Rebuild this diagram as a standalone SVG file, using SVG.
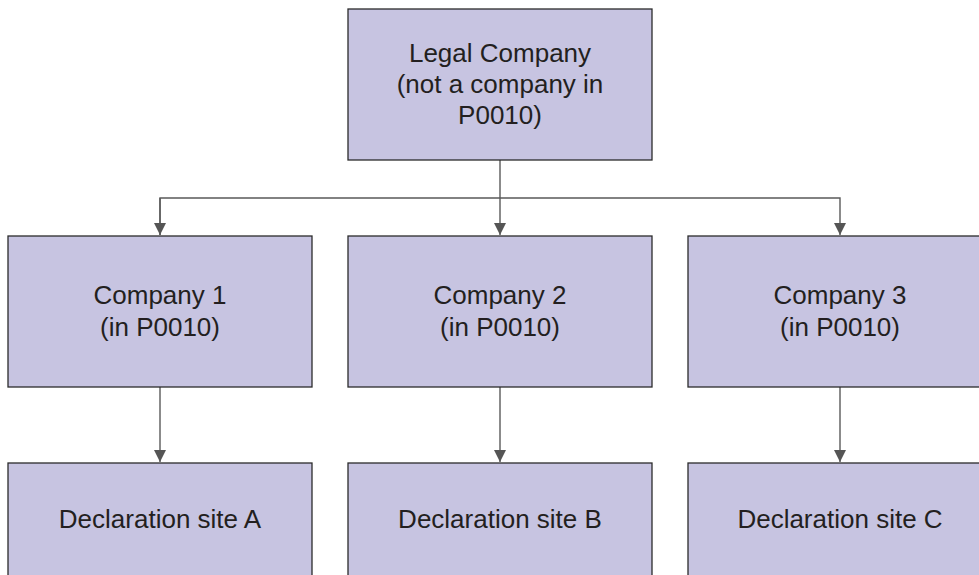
<svg xmlns="http://www.w3.org/2000/svg" width="979" height="575" viewBox="0 0 979 575">
<style>
.box{fill:#c7c4e1;stroke:#2b2b2b;stroke-width:1.3}
.lbl{font-family:"Liberation Sans",Arial,sans-serif;font-size:26px;fill:#231f20;text-anchor:middle}
.con{fill:none;stroke:#5a5a5a;stroke-width:1.4}
</style>
<defs>
<marker id="arr" markerUnits="userSpaceOnUse" markerWidth="14" markerHeight="14" viewBox="0 0 14 14" refX="12" refY="7" orient="auto">
<path d="M0,1 L12,7 L0,13 Z" fill="#555"/>
</marker>
</defs>
<rect width="979" height="575" fill="#fff"/>
<g id="connectors">
<line class="con" x1="500" y1="160" x2="500" y2="235" marker-end="url(#arr)"/>
<polyline class="con" points="160,235 160,198 840,198 840,235" marker-end="url(#arr)"/>
<line class="con" x1="160" y1="198" x2="160" y2="235" marker-end="url(#arr)"/>
<line class="con" x1="160" y1="387" x2="160" y2="462" marker-end="url(#arr)"/>
<line class="con" x1="500" y1="387" x2="500" y2="462" marker-end="url(#arr)"/>
<line class="con" x1="840" y1="387" x2="840" y2="462" marker-end="url(#arr)"/>
</g>
<g id="legal">
<rect class="box" x="348" y="9" width="304" height="151"/>
<text class="lbl" x="500" y="62">Legal Company</text>
<text class="lbl" x="500" y="93">(not a company in</text>
<text class="lbl" x="500" y="124">P0010)</text>
</g>
<g id="company1">
<rect class="box" x="8" y="236" width="304" height="151"/>
<text class="lbl" x="160" y="304">Company 1</text>
<text class="lbl" x="160" y="336">(in P0010)</text>
</g>
<g id="company2">
<rect class="box" x="348" y="236" width="304" height="151"/>
<text class="lbl" x="500" y="304">Company 2</text>
<text class="lbl" x="500" y="336">(in P0010)</text>
</g>
<g id="company3">
<rect class="box" x="688" y="236" width="304" height="151"/>
<text class="lbl" x="840" y="304">Company 3</text>
<text class="lbl" x="840" y="336">(in P0010)</text>
</g>
<g id="siteA">
<rect class="box" x="8" y="463" width="304" height="151"/>
<text class="lbl" x="160" y="528">Declaration site A</text>
</g>
<g id="siteB">
<rect class="box" x="348" y="463" width="304" height="151"/>
<text class="lbl" x="500" y="528">Declaration site B</text>
</g>
<g id="siteC">
<rect class="box" x="688" y="463" width="304" height="151"/>
<text class="lbl" x="840" y="528">Declaration site C</text>
</g>
</svg>
